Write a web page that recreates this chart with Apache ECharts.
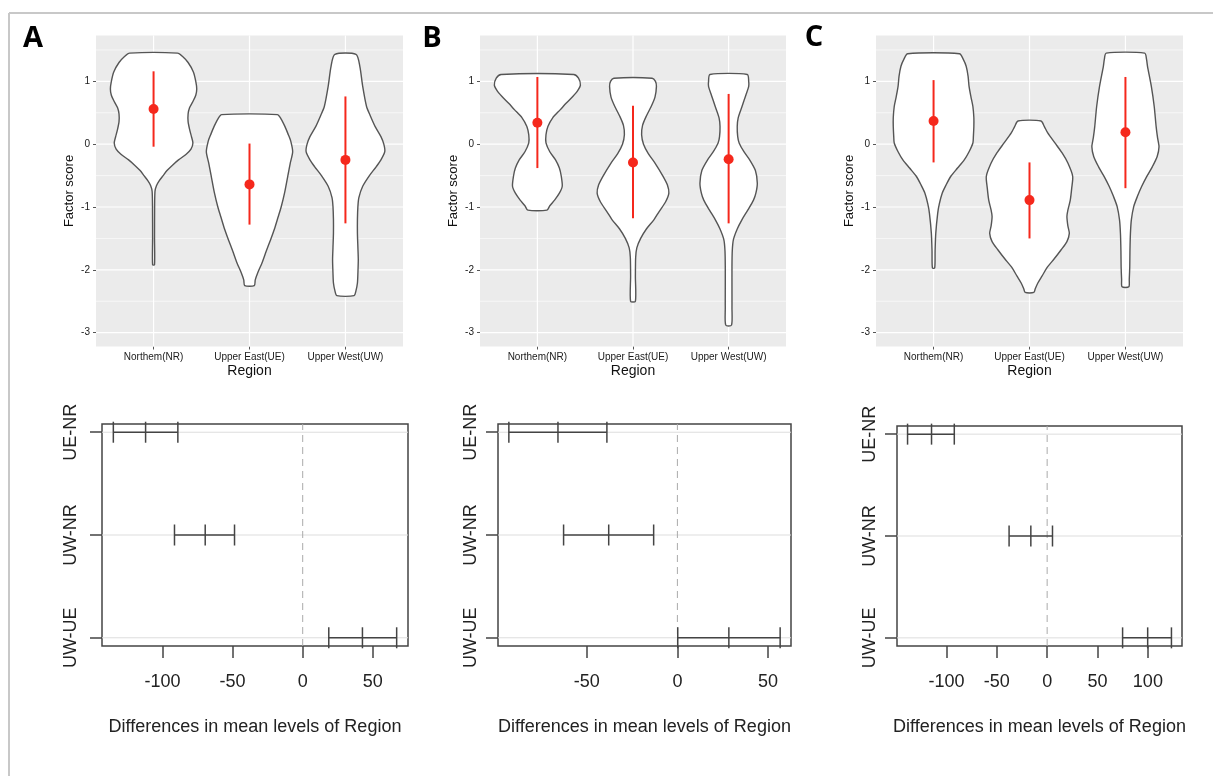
<!DOCTYPE html>
<html><head><meta charset="utf-8">
<script src="https://cdn.jsdelivr.net/npm/echarts@6/dist/echarts.min.js"></script>
<style>html,body{margin:0;padding:0;background:#fff}#c{width:1213px;height:776px}</style>
</head><body><div id="c"></div>
<script>
// ---------- DATA ----------
const regions = ['Northem(NR)', 'Upper East(UE)', 'Upper West(UW)'];
const regionPos = [1, 2, 3];
const scoreTicks = [-3, -2, -1, 0, 1];
const scoreMinor = [-2.5, -1.5, -0.5, 0.5, 1.5];
const panelLetters = ['A', 'B', 'C'];

// violin outlines: [factor score, half-width in category units]
const violinA_NR = [[1.45,0.25],[1.40,0.30],[1.30,0.36],[1.15,0.415],[1.0,0.44],[0.88,0.45],[0.78,0.44],[0.68,0.41],[0.58,0.375],[0.48,0.36],[0.36,0.36],[0.24,0.375],[0.12,0.395],[0.02,0.41],[-0.08,0.39],[-0.16,0.34],[-0.25,0.26],[-0.33,0.20],[-0.42,0.14],[-0.5,0.10],[-0.58,0.06],[-0.66,0.03],[-0.75,0.015],[-1.0,0.011],[-1.5,0.01],[-1.92,0.01]];
const violinA_UE = [[0.47,0.29],[0.40,0.33],[0.28,0.37],[0.15,0.405],[0.05,0.43],[-0.12,0.45],[-0.30,0.425],[-0.50,0.40],[-0.78,0.365],[-1.0,0.33],[-1.15,0.30],[-1.35,0.26],[-1.52,0.22],[-1.7,0.175],[-1.89,0.13],[-2.05,0.085],[-2.16,0.06],[-2.25,0.05]];
const violinA_UW = [[1.43,0.11],[1.24,0.15],[0.92,0.18],[0.6,0.22],[0.45,0.26],[0.28,0.31],[0.12,0.37],[0.0,0.40],[-0.12,0.41],[-0.25,0.37],[-0.36,0.32],[-0.5,0.25],[-0.67,0.18],[-0.85,0.14],[-0.99,0.13],[-1.2,0.125],[-1.42,0.125],[-1.65,0.13],[-1.84,0.134],[-2.05,0.13],[-2.21,0.125],[-2.33,0.11],[-2.41,0.09]];
const violinB_NR = [[1.11,0.38],[1.05,0.43],[0.94,0.45],[0.85,0.42],[0.76,0.37],[0.65,0.30],[0.55,0.24],[0.42,0.16],[0.28,0.11],[0.15,0.09],[0.02,0.09],[-0.12,0.13],[-0.25,0.19],[-0.38,0.23],[-0.51,0.25],[-0.67,0.26],[-0.78,0.23],[-0.89,0.18],[-0.98,0.13],[-1.05,0.10]];
const violinB_UE = [[1.05,0.20],[1.0,0.235],[0.92,0.245],[0.75,0.23],[0.6,0.19],[0.45,0.14],[0.3,0.10],[0.15,0.09],[0.0,0.11],[-0.15,0.16],[-0.3,0.23],[-0.5,0.31],[-0.65,0.36],[-0.78,0.375],[-0.92,0.34],[-1.08,0.27],[-1.2,0.22],[-1.35,0.14],[-1.5,0.08],[-1.65,0.04],[-1.8,0.028],[-2.1,0.025],[-2.5,0.025]];
const violinB_UW = [[1.11,0.195],[1.0,0.21],[0.92,0.21],[0.78,0.18],[0.6,0.14],[0.42,0.10],[0.28,0.09],[0.12,0.095],[0.02,0.11],[-0.12,0.16],[-0.25,0.22],[-0.42,0.28],[-0.62,0.30],[-0.78,0.285],[-0.89,0.26],[-1.05,0.20],[-1.2,0.14],[-1.35,0.09],[-1.52,0.05],[-1.7,0.038],[-1.95,0.035],[-2.3,0.035],[-2.6,0.035],[-2.88,0.03]];
const violinC_NR = [[1.44,0.27],[1.35,0.31],[1.24,0.34],[1.08,0.36],[0.92,0.37],[0.75,0.39],[0.6,0.41],[0.42,0.42],[0.28,0.42],[0.12,0.415],[0.02,0.41],[-0.12,0.37],[-0.25,0.32],[-0.38,0.25],[-0.51,0.18],[-0.65,0.13],[-0.78,0.09],[-0.95,0.06],[-1.1,0.043],[-1.42,0.023],[-1.7,0.016],[-1.97,0.012]];
const violinC_UE = [[0.37,0.12],[0.28,0.155],[0.18,0.19],[0.02,0.265],[-0.14,0.34],[-0.3,0.40],[-0.51,0.45],[-0.7,0.44],[-0.89,0.425],[-1.05,0.40],[-1.15,0.39],[-1.3,0.40],[-1.42,0.415],[-1.55,0.39],[-1.68,0.33],[-1.82,0.26],[-1.95,0.19],[-2.1,0.13],[-2.21,0.087],[-2.3,0.06],[-2.36,0.045]];
const violinC_UW = [[1.45,0.20],[1.35,0.22],[1.24,0.23],[0.92,0.27],[0.6,0.30],[0.28,0.32],[0.1,0.335],[-0.04,0.35],[-0.2,0.33],[-0.36,0.28],[-0.52,0.22],[-0.67,0.17],[-0.83,0.125],[-0.99,0.087],[-1.2,0.062],[-1.42,0.052],[-1.7,0.047],[-1.95,0.045],[-2.15,0.04],[-2.27,0.035]];

// means with intervals
const meanA = [0.56, -0.64, -0.25], lowA = [-0.04, -1.28, -1.26], highA = [1.16, 0.01, 0.76];
const meanB = [0.34, -0.29, -0.24], lowB = [-0.38, -1.18, -1.26], highB = [1.07, 0.61, 0.80];
const meanC = [0.37, -0.89, 0.19], lowC = [-0.29, -1.50, -0.70], highC = [1.02, -0.29, 1.07];

// Tukey HSD comparisons (top to bottom)
const comparisons = ['UE-NR', 'UW-NR', 'UW-UE'];
const diffA = [-112, -69.5, 42.6], lwrA = [-135, -91.4, 18.6], uprA = [-89, -48.6, 67];
const diffB = [-65.9, -37.9, 28.4], lwrB = [-93, -62.8, 0.2], uprB = [-38.9, -13.1, 56.7];
const diffC = [-114.8, -16.2, 99.8], lwrC = [-138.6, -37.8, 74.9], uprC = [-92.2, 5.3, 123.4];
const tukeyTicksA = [-100, -50, 0, 50];
const tukeyTicksB = [-50, 0, 50];
const tukeyTicksC = [-100, -50, 0, 50, 100];

// ---------- LAYOUT ----------
const FONT = 'Liberation Sans, Arial, sans-serif';
const violinGrids = [
  {left: 96, top: 35.5, width: 307, height: 311},
  {left: 480, top: 35.5, width: 306, height: 311},
  {left: 876, top: 35.5, width: 307, height: 311}
];
const tukeyGrids = [
  {left: 102, top: 424, width: 306, height: 222},
  {left: 498, top: 424, width: 293, height: 222},
  {left: 897, top: 426, width: 285, height: 220}
];
const tukeyLabelMargin = [22, 18, 18];
const letterPos = [[33, 39], [432, 39], [814, 38]];

const violinSets = [[violinA_NR, violinA_UE, violinA_UW], [violinB_NR, violinB_UE, violinB_UW], [violinC_NR, violinC_UE, violinC_UW]];
const meanSets = [[meanA, lowA, highA], [meanB, lowB, highB], [meanC, lowC, highC]];
const tukeySets = [[diffA, lwrA, uprA, tukeyTicksA], [diffB, lwrB, uprB, tukeyTicksB], [diffC, lwrC, uprC, tukeyTicksC]];

const X_MIN = 0.4, X_MAX = 3.6, Y_MIN = -3.22, Y_MAX = 1.73;

const grids = [], xAxes = [], yAxes = [], series = [];

violinGrids.forEach((g, p) => {
  grids.push(Object.assign({show: true, backgroundColor: '#EBEBEB', borderWidth: 0}, g));
  xAxes.push({
    type: 'value', gridIndex: p, min: X_MIN, max: X_MAX, position: 'bottom',
    axisLine: {show: false, onZero: false}, splitLine: {show: false},
    axisTick: {show: true, customValues: regionPos, length: 3, lineStyle: {color: '#555', width: 1}},
    axisLabel: {customValues: regionPos, formatter: v => regions[Math.round(v) - 1], fontSize: 10, color: '#1a1a1a', margin: 6, fontFamily: FONT},
    name: 'Region', nameLocation: 'middle', nameGap: 18,
    nameTextStyle: {fontSize: 14, color: '#111', fontFamily: FONT}
  });
  yAxes.push({
    type: 'value', gridIndex: p, min: Y_MIN, max: Y_MAX, position: 'left',
    axisLine: {show: false, onZero: false}, splitLine: {show: false},
    axisTick: {show: true, customValues: scoreTicks, length: 3, lineStyle: {color: '#555', width: 1}},
    axisLabel: {customValues: scoreTicks, fontSize: 10, color: '#1a1a1a', margin: 6, fontFamily: FONT},
    name: 'Factor score', nameLocation: 'middle', nameGap: 20,
    nameTextStyle: {fontSize: 13, color: '#111', fontFamily: FONT}
  });
});

tukeyGrids.forEach((g, p) => {
  const [d, lo, hi, ticks] = tukeySets[p];
  const mn = Math.min(...lo), mx = Math.max(...hi), ext = (mx - mn) * 0.04;
  grids.push(Object.assign({show: true, backgroundColor: 'transparent', borderColor: '#444', borderWidth: 1.5}, g));
  xAxes.push({
    type: 'value', gridIndex: 3 + p, min: mn - ext, max: mx + ext, position: 'bottom',
    axisLine: {show: false, onZero: false}, splitLine: {show: false},
    axisTick: {show: true, customValues: ticks, length: 12, lineStyle: {color: '#444', width: 1.5}},
    axisLabel: {customValues: ticks, fontSize: 18, color: '#222', margin: 27, fontFamily: FONT},
    name: 'Differences in mean levels of Region', nameLocation: 'middle', nameGap: 72,
    nameTextStyle: {fontSize: 18, color: '#222', fontFamily: FONT}
  });
  yAxes.push({
    type: 'value', gridIndex: 3 + p, min: 0.92, max: 3.08, position: 'left',
    axisLine: {show: false, onZero: false}, splitLine: {show: false},
    axisTick: {show: true, customValues: [1, 2, 3], length: 12, lineStyle: {color: '#444', width: 1.5}},
    axisLabel: {customValues: [1, 2, 3], rotate: 90, formatter: v => comparisons[3 - Math.round(v)], fontSize: 18, color: '#222', margin: tukeyLabelMargin[p], fontFamily: FONT}
  });
});

// violin panel series
violinGrids.forEach((g, p) => {
  const gl = [];
  scoreMinor.forEach(v => gl.push([1, v]));
  scoreTicks.forEach(v => gl.push([0, v]));
  regionPos.forEach(v => gl.push([2, v]));
  series.push({
    type: 'custom', xAxisIndex: p, yAxisIndex: p, silent: true, z: 1, data: gl,
    renderItem: (params, api) => {
      const k = api.value(0), v = api.value(1);
      let a, b;
      if (k === 2) { a = api.coord([v, Y_MIN]); b = api.coord([v, Y_MAX]); }
      else { a = api.coord([X_MIN, v]); b = api.coord([X_MAX, v]); }
      return {type: 'line', shape: {x1: a[0], y1: a[1], x2: b[0], y2: b[1]},
        style: {stroke: '#ffffff', lineWidth: k === 1 ? 0.6 : 1.2}};
    }
  });
  const shapes = violinSets[p];
  series.push({
    type: 'custom', xAxisIndex: p, yAxisIndex: p, silent: true, z: 3,
    data: regionPos.map(v => [v, 0]),
    renderItem: (params, api) => {
      const s = shapes[params.dataIndex], pos = api.value(0);
      const pts = [];
      s.forEach(([y, w]) => pts.push(api.coord([pos + w, y])));
      for (let k = s.length - 1; k >= 0; k--) pts.push(api.coord([pos - s[k][1], s[k][0]]));
      return {type: 'polygon', shape: {points: pts, smooth: 0.25},
        style: {fill: '#ffffff', stroke: '#555555', lineWidth: 1.4}};
    }
  });
  const [m, lo, hi] = meanSets[p];
  series.push({
    type: 'custom', xAxisIndex: p, yAxisIndex: p, silent: true, z: 4,
    data: regionPos.map((v, i) => [v, lo[i], hi[i]]),
    renderItem: (params, api) => {
      const a = api.coord([api.value(0), api.value(1)]), b = api.coord([api.value(0), api.value(2)]);
      return {type: 'line', shape: {x1: a[0], y1: a[1], x2: b[0], y2: b[1]},
        style: {stroke: '#F5281C', lineWidth: 2}};
    }
  });
  series.push({
    type: 'scatter', xAxisIndex: p, yAxisIndex: p, silent: true, z: 5,
    symbol: 'circle', symbolSize: 10, itemStyle: {color: '#F5281C', opacity: 1},
    data: regionPos.map((v, i) => [v, m[i]])
  });
});

tukeyGrids.forEach((g, p) => {
  const ai = 3 + p;
  const [d, lo, hi] = tukeySets[p];
  const ax = xAxes[ai];
  series.push({
    type: 'custom', xAxisIndex: ai, yAxisIndex: ai, silent: true, z: 1,
    data: [[0, 1], [0, 2], [0, 3], [1, 0]],
    renderItem: (params, api) => {
      const k = api.value(0), v = api.value(1);
      if (k === 0) {
        const a = api.coord([ax.min, v]), b = api.coord([ax.max, v]);
        return {type: 'line', shape: {x1: a[0], y1: a[1], x2: b[0], y2: b[1]}, style: {stroke: '#DDDDDD', lineWidth: 1}};
      }
      const a = api.coord([v, 0.92]), b = api.coord([v, 3.08]);
      return {type: 'line', shape: {x1: a[0], y1: a[1], x2: b[0], y2: b[1]}, style: {stroke: '#AAAAAA', lineWidth: 1, lineDash: [7, 5]}};
    }
  });
  series.push({
    type: 'custom', xAxisIndex: ai, yAxisIndex: ai, silent: true, z: 3,
    data: comparisons.map((c, i) => [d[i], 3 - i, lo[i], hi[i]]),
    renderItem: (params, api) => {
      const y = api.value(1);
      const a = api.coord([api.value(2), y]), m = api.coord([api.value(0), y]), b = api.coord([api.value(3), y]);
      const st = {stroke: '#444444', lineWidth: 1.5};
      const h = 10.5;
      return {type: 'group', children: [
        {type: 'line', shape: {x1: a[0], y1: a[1], x2: b[0], y2: b[1]}, style: st},
        ...[a, m, b].map(q => ({type: 'line', shape: {x1: q[0], y1: q[1] - h, x2: q[0], y2: q[1] + h}, style: st}))
      ]};
    }
  });
});

const graphics = [
  {type: 'line', shape: {x1: 9, y1: 13, x2: 1213, y2: 13}, style: {stroke: '#C8C8C8', lineWidth: 2}, silent: true},
  {type: 'line', shape: {x1: 9, y1: 13, x2: 9, y2: 776}, style: {stroke: '#C8C8C8', lineWidth: 2}, silent: true}
];
panelLetters.forEach((t, i) => graphics.push({
  type: 'text', x: letterPos[i][0], y: letterPos[i][1], silent: true,
  style: {text: t, fontSize: 29, fontWeight: 'bold', fontFamily: 'Open Sans, Liberation Sans, sans-serif', fill: '#000', align: 'center', verticalAlign: 'middle'}
}));

const chart = echarts.init(document.getElementById('c'), null, {renderer: 'canvas'});
chart.setOption({
  animation: false,
  backgroundColor: '#ffffff',
  grid: grids, xAxis: xAxes, yAxis: yAxes, series: series,
  graphic: graphics
});
</script></body></html>
